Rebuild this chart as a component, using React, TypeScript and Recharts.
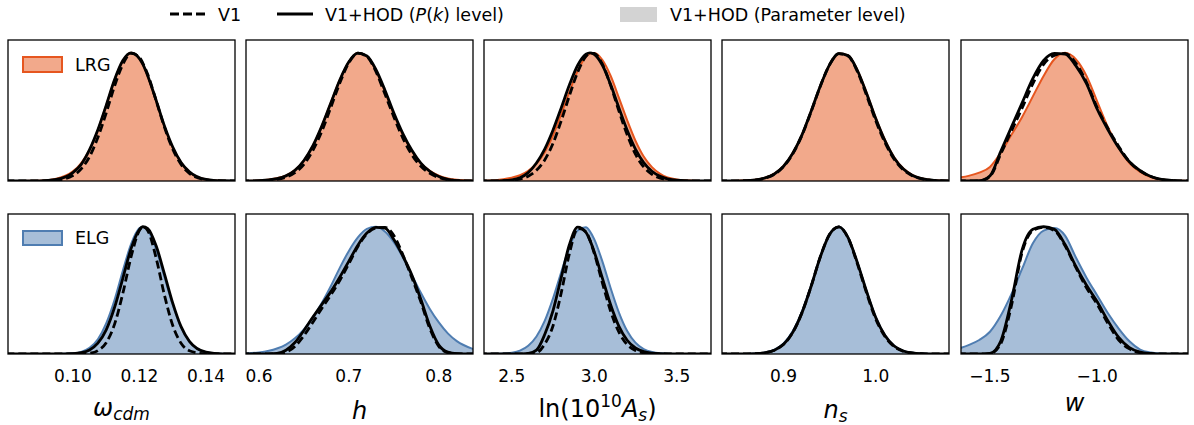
import React from "react";
import { ComposedChart, Area, Line, XAxis, YAxis } from "recharts";

// ---- omega_cdm ----
const omegaX = [0.080, 0.090, 0.095, 0.100, 0.1025, 0.105, 0.1075, 0.110, 0.1125, 0.115, 0.1175, 0.120, 0.121, 0.1225, 0.125, 0.1275, 0.130, 0.1325, 0.135, 0.140, 0.145, 0.150];
const omegaLrgParam = [0, 0.002, 0.018, 0.075, 0.14, 0.245, 0.397, 0.589, 0.788, 0.937, 1.0, 0.953, 0.908, 0.815, 0.624, 0.424, 0.26, 0.143, 0.07, 0.012, 0.001, 0];
const omegaLrgPk = [0, 0.001, 0.012, 0.065, 0.13, 0.245, 0.40, 0.59, 0.79, 0.94, 1.0, 0.955, 0.911, 0.82, 0.63, 0.43, 0.265, 0.145, 0.072, 0.013, 0.002, 0];
const omegaLrgV1 = [0, 0, 0.006, 0.042, 0.095, 0.19, 0.34, 0.53, 0.74, 0.91, 0.995, 0.965, 0.92, 0.83, 0.628, 0.42, 0.248, 0.13, 0.06, 0.009, 0.001, 0];
const omegaElgParam = [0, 0, 0, 0.005, 0.017, 0.048, 0.115, 0.24, 0.424, 0.654, 0.865, 0.989, 1.0, 0.974, 0.825, 0.607, 0.385, 0.209, 0.099, 0.014, 0.001, 0];
const omegaElgPk = [0, 0, 0, 0.003, 0.01, 0.032, 0.085, 0.19, 0.365, 0.595, 0.83, 0.978, 1.0, 0.985, 0.85, 0.63, 0.4, 0.215, 0.1, 0.015, 0.001, 0];
const omegaElgV1 = [0, 0, 0, 0, 0.001, 0.006, 0.027, 0.089, 0.233, 0.476, 0.766, 0.972, 0.999, 0.969, 0.755, 0.463, 0.224, 0.085, 0.026, 0.001, 0, 0];
const omegaTicks = [0.10, 0.12, 0.14];

// ---- h ----
const hX = [0.58, 0.60, 0.62, 0.63, 0.64, 0.65, 0.66, 0.67, 0.68, 0.69, 0.70, 0.71, 0.72, 0.73, 0.74, 0.75, 0.76, 0.77, 0.78, 0.79, 0.80, 0.81, 0.82, 0.84];
const hLrgParam = [0, 0.003, 0.022, 0.042, 0.085, 0.16, 0.275, 0.43, 0.612, 0.79, 0.93, 0.998, 0.972, 0.865, 0.7, 0.52, 0.36, 0.235, 0.14, 0.08, 0.042, 0.02, 0.009, 0.002];
const hLrgPk = [0, 0.002, 0.018, 0.04, 0.083, 0.16, 0.275, 0.43, 0.61, 0.79, 0.93, 0.997, 0.975, 0.87, 0.71, 0.53, 0.37, 0.24, 0.14, 0.075, 0.035, 0.012, 0.003, 0];
const hLrgV1 = [0, 0.001, 0.012, 0.029, 0.065, 0.13, 0.24, 0.39, 0.576, 0.766, 0.923, 0.997, 0.971, 0.855, 0.68, 0.5, 0.335, 0.205, 0.115, 0.06, 0.027, 0.01, 0.003, 0];
const hElgParam = [0.003, 0.012, 0.043, 0.074, 0.123, 0.194, 0.287, 0.402, 0.534, 0.679, 0.81, 0.916, 0.983, 0.999, 0.962, 0.878, 0.76, 0.619, 0.481, 0.354, 0.248, 0.162, 0.101, 0.034];
const hElgPk = [0, 0, 0.005, 0.03, 0.09, 0.185, 0.29, 0.39, 0.49, 0.605, 0.73, 0.855, 0.95, 0.995, 0.99, 0.9, 0.77, 0.62, 0.43, 0.22, 0.07, 0.015, 0.003, 0];
const hElgV1 = [0, 0, 0.002, 0.015, 0.06, 0.145, 0.25, 0.36, 0.465, 0.58, 0.71, 0.845, 0.945, 0.99, 0.995, 0.93, 0.78, 0.6, 0.41, 0.2, 0.06, 0.01, 0.002, 0];
const hTicks = [0.6, 0.7, 0.8];

// ---- ln(10^10 A_s) ----
const asX = [2.30, 2.40, 2.45, 2.50, 2.55, 2.60, 2.65, 2.70, 2.75, 2.80, 2.85, 2.90, 2.95, 2.975, 3.00, 3.05, 3.10, 3.15, 3.20, 3.25, 3.30, 3.35, 3.40, 3.50, 3.60, 3.72];
const asLrgParam = [0, 0.006, 0.014, 0.026, 0.045, 0.08, 0.135, 0.225, 0.355, 0.522, 0.697, 0.86, 0.969, 0.994, 0.999, 0.944, 0.82, 0.649, 0.474, 0.315, 0.191, 0.108, 0.055, 0.011, 0.002, 0];
const asLrgPk = [0, 0, 0.002, 0.008, 0.025, 0.065, 0.14, 0.249, 0.396, 0.57, 0.75, 0.903, 0.989, 1.0, 0.989, 0.903, 0.75, 0.57, 0.396, 0.249, 0.144, 0.076, 0.036, 0.006, 0.001, 0];
const asLrgV1 = [0, 0, 0.002, 0.005, 0.015, 0.037, 0.083, 0.164, 0.292, 0.469, 0.667, 0.85, 0.973, 0.998, 0.995, 0.911, 0.744, 0.546, 0.36, 0.209, 0.11, 0.052, 0.022, 0.003, 0, 0];
const asElgParam = [0, 0.001, 0.003, 0.01, 0.027, 0.065, 0.138, 0.26, 0.435, 0.642, 0.84, 0.971, 0.995, 0.962, 0.903, 0.726, 0.516, 0.325, 0.18, 0.089, 0.039, 0.015, 0.005, 0, 0, 0];
const asElgPk = [0, 0, 0, 0, 0.001, 0.004, 0.03, 0.153, 0.339, 0.6, 0.86, 0.997, 0.956, 0.891, 0.804, 0.594, 0.385, 0.217, 0.108, 0.047, 0.018, 0.006, 0.002, 0, 0, 0];
const asElgV1 = [0, 0, 0, 0, 0, 0.004, 0.01, 0.078, 0.22, 0.48, 0.79, 0.987, 0.962, 0.891, 0.793, 0.557, 0.334, 0.171, 0.074, 0.028, 0.009, 0.002, 0, 0, 0, 0];
const asTicks = [2.5, 3.0, 3.5];

// ---- n_s ----
const nsX = [0.83, 0.85, 0.87, 0.88, 0.89, 0.90, 0.91, 0.92, 0.93, 0.94, 0.95, 0.96, 0.97, 0.98, 0.99, 1.00, 1.01, 1.02, 1.03, 1.04, 1.05, 1.06, 1.08];
const nsLrgParam = [0, 0.002, 0.01, 0.026, 0.057, 0.117, 0.218, 0.362, 0.547, 0.744, 0.909, 0.995, 0.98, 0.867, 0.69, 0.492, 0.32, 0.185, 0.097, 0.046, 0.02, 0.008, 0.001];
const nsLrgPk = [0, 0.001, 0.009, 0.024, 0.055, 0.115, 0.216, 0.36, 0.546, 0.743, 0.908, 0.994, 0.978, 0.864, 0.685, 0.487, 0.315, 0.18, 0.093, 0.043, 0.018, 0.007, 0.001];
const nsLrgV1 = [0, 0.001, 0.008, 0.022, 0.052, 0.112, 0.212, 0.357, 0.543, 0.742, 0.908, 0.994, 0.975, 0.855, 0.67, 0.47, 0.3, 0.17, 0.087, 0.04, 0.016, 0.006, 0.001];
const nsElgParam = [0, 0, 0.004, 0.012, 0.034, 0.082, 0.18, 0.335, 0.54, 0.768, 0.941, 0.999, 0.916, 0.722, 0.496, 0.29, 0.148, 0.065, 0.025, 0.009, 0.003, 0, 0];
const nsElgPk = [0, 0, 0.003, 0.01, 0.03, 0.076, 0.17, 0.325, 0.534, 0.766, 0.941, 0.999, 0.915, 0.72, 0.493, 0.287, 0.146, 0.063, 0.024, 0.008, 0.002, 0, 0];
const nsElgV1 = [0, 0, 0.003, 0.01, 0.03, 0.076, 0.17, 0.325, 0.534, 0.766, 0.941, 0.999, 0.912, 0.71, 0.48, 0.275, 0.138, 0.058, 0.021, 0.007, 0.002, 0, 0];
const nsTicks = [0.9, 1.0];

// ---- w ----
const wX = [-1.65, -1.60, -1.55, -1.50, -1.45, -1.40, -1.35, -1.30, -1.25, -1.20, -1.15, -1.10, -1.05, -1.00, -0.95, -0.90, -0.85, -0.80, -0.75, -0.70, -0.65, -0.60, -0.55];
const wLrgParam = [0.025, 0.04, 0.065, 0.11, 0.22, 0.36, 0.5, 0.66, 0.82, 0.95, 1.0, 0.95, 0.82, 0.62, 0.42, 0.26, 0.14, 0.07, 0.03, 0.012, 0.004, 0.001, 0];
const wLrgPk = [0, 0, 0.002, 0.04, 0.23, 0.42, 0.61, 0.8, 0.94, 0.995, 0.99, 0.9, 0.76, 0.56, 0.4, 0.26, 0.15, 0.08, 0.035, 0.013, 0.004, 0.001, 0];
const wLrgV1 = [0, 0, 0.001, 0.035, 0.21, 0.39, 0.57, 0.76, 0.91, 0.98, 0.995, 0.92, 0.77, 0.57, 0.41, 0.27, 0.15, 0.08, 0.035, 0.012, 0.004, 0.001, 0];
const wElgParam = [0.04, 0.07, 0.11, 0.175, 0.3, 0.47, 0.67, 0.87, 0.97, 0.99, 0.93, 0.76, 0.6, 0.46, 0.32, 0.2, 0.1, 0.035, 0.012, 0.004, 0.001, 0, 0];
const wElgPk = [0, 0, 0, 0.005, 0.1, 0.42, 0.82, 0.98, 1.0, 0.98, 0.86, 0.69, 0.54, 0.41, 0.26, 0.13, 0.05, 0.015, 0.004, 0, 0, 0, 0];
const wElgV1 = [0, 0, 0, 0.002, 0.08, 0.38, 0.8, 0.97, 0.995, 0.97, 0.85, 0.68, 0.52, 0.39, 0.24, 0.11, 0.04, 0.01, 0.002, 0, 0, 0, 0];
const wTicks = [-1.5, -1.0];

const FONT = "DejaVu Sans";
const LRG = { edge: "#e6561f", fill: "#f2a98b" };
const ELG = { edge: "#4f7db1", fill: "#a7bed8" };

const PANEL_W = 227;
const PANEL_LEFT = [8, 246, 484, 722, 961];
const TOP_Y = 40;
const TOP_H = 141;
const BOT_Y = 214;
const BOT_H = 140;

const panels = [
  { x: omegaX, domain: [0.0805, 0.1487], ticks: omegaTicks, digits: 2,
    lrg: [omegaLrgParam, omegaLrgPk, omegaLrgV1], elg: [omegaElgParam, omegaElgPk, omegaElgV1] },
  { x: hX, domain: [0.5856, 0.838], ticks: hTicks, digits: 1,
    lrg: [hLrgParam, hLrgPk, hLrgV1], elg: [hElgParam, hElgPk, hElgV1] },
  { x: asX, domain: [2.332, 3.708], ticks: asTicks, digits: 1,
    lrg: [asLrgParam, asLrgPk, asLrgV1], elg: [asElgParam, asElgPk, asElgV1] },
  { x: nsX, domain: [0.8332, 1.0795], ticks: nsTicks, digits: 1,
    lrg: [nsLrgParam, nsLrgPk, nsLrgV1], elg: [nsElgParam, nsElgPk, nsElgV1] },
  { x: wX, domain: [-1.635, -0.577], ticks: wTicks, digits: 1,
    lrg: [wLrgParam, wLrgPk, wLrgV1], elg: [wElgParam, wElgPk, wElgV1] },
];

const fmt = (v: number, d: number) => (v < 0 ? "\u2212" + Math.abs(v).toFixed(d) : v.toFixed(d));

function Panel({ p, series, color, left, top, plotH, showAxis }: any) {
  const [param, pk, v1] = series;
  const rows = p.x.map((x: number, i: number) => ({ x, param: param[i], pk: pk[i], v1: v1[i] }));
  const axisH = showAxis ? 40 : 0;
  return (
    <div style={{ position: "absolute", left, top }}>
      <ComposedChart width={PANEL_W} height={plotH + axisH} data={rows} margin={{ top: 0, right: 0, bottom: 0, left: 0 }}>
        <XAxis
          type="number"
          dataKey="x"
          domain={p.domain}
          allowDataOverflow
          ticks={p.ticks}
          interval={0}
          hide={!showAxis}
          height={40}
          axisLine={false}
          tickLine={false}
          tickSize={0}
          tickMargin={16}
          tick={{ fill: "#000", fontSize: 17, fontFamily: FONT }}
          tickFormatter={(v: number) => fmt(v, p.digits)}
        />
        <YAxis hide domain={[0, 1.1]} allowDataOverflow />
        <Area type="monotone" dataKey="param" stroke={color.edge} strokeWidth={2} fill={color.fill} fillOpacity={1}
          dot={false} activeDot={false} isAnimationActive={false} />
        <Line type="monotone" dataKey="v1" stroke="#000" strokeWidth={2.8} strokeDasharray="8 4"
          dot={false} activeDot={false} isAnimationActive={false} />
        <Line type="monotone" dataKey="pk" stroke="#000" strokeWidth={2.8}
          dot={false} activeDot={false} isAnimationActive={false} />
      </ComposedChart>
    </div>
  );
}

const labelBaselines = [416, 419, 417, 418, 411];

function AxisLabel({ i, cx }: { i: number; cx: number }) {
  const y = labelBaselines[i];
  const common = { x: cx, y, textAnchor: "middle" as const, fontSize: 24, fontFamily: FONT, fill: "#000" };
  if (i === 0)
    return (
      <text {...common}>
        <tspan fontStyle="italic">ω</tspan>
        <tspan fontStyle="italic" fontSize={17} dy={4}>cdm</tspan>
      </text>
    );
  if (i === 1) return <text {...common} fontStyle="italic">h</text>;
  if (i === 2)
    return (
      <text {...common}>
        ln(10
        <tspan fontSize={17} dy={-10}>10</tspan>
        <tspan fontStyle="italic" dy={10}>A</tspan>
        <tspan fontStyle="italic" fontSize={17} dy={4}>s</tspan>
        <tspan dy={-4}>)</tspan>
      </text>
    );
  if (i === 3)
    return (
      <text {...common}>
        <tspan fontStyle="italic">n</tspan>
        <tspan fontStyle="italic" fontSize={17} dy={4}>s</tspan>
      </text>
    );
  return <text {...common} fontStyle="italic">w</text>;
}

export default function App() {
  return (
    <div style={{ position: "absolute", left: 0, top: 0, width: 1194, height: 425, background: "#fff", fontFamily: FONT }}>
      {panels.map((p, i) => (
        <Panel key={"l" + i} p={p} series={p.lrg} color={LRG} left={PANEL_LEFT[i]} top={TOP_Y} plotH={TOP_H} showAxis={false} />
      ))}
      {panels.map((p, i) => (
        <Panel key={"e" + i} p={p} series={p.elg} color={ELG} left={PANEL_LEFT[i]} top={BOT_Y} plotH={BOT_H} showAxis />
      ))}
      <svg width={1194} height={425} style={{ position: "absolute", left: 0, top: 0, pointerEvents: "none" }}>
        {PANEL_LEFT.map((l, i) => (
          <g key={i}>
            <rect x={l} y={TOP_Y} width={PANEL_W} height={TOP_H} fill="none" stroke="#000" strokeWidth={1.3} />
            <rect x={l} y={BOT_Y} width={PANEL_W} height={BOT_H} fill="none" stroke="#000" strokeWidth={1.3} />
            <AxisLabel i={i} cx={l + PANEL_W / 2} />
          </g>
        ))}

        {/* sample tracer legends */}
        <rect x={23} y={57} width={39} height={15} fill={LRG.fill} stroke={LRG.edge} strokeWidth={2} />
        <text x={75} y={70.5} fontSize={17.5} fontFamily={FONT} fill="#000">LRG</text>
        <rect x={23} y={231} width={39} height={14} fill={ELG.fill} stroke={ELG.edge} strokeWidth={2} />
        <text x={75} y={244} fontSize={17.5} fontFamily={FONT} fill="#000">ELG</text>

        {/* top legend */}
        <line x1={170} x2={205} y1={14} y2={14} stroke="#000" strokeWidth={2.8} strokeDasharray="9 4" />
        <text x={218} y={21} fontSize={17.5} fontFamily={FONT} fill="#000">V1</text>
        <line x1={277} x2={313} y1={14} y2={14} stroke="#000" strokeWidth={2.8} />
        <text x={325} y={21} fontSize={17.5} fontFamily={FONT} fill="#000">
          V1+HOD (<tspan fontStyle="italic">P</tspan>(<tspan fontStyle="italic">k</tspan>) level)
        </text>
        <rect x={620} y={7} width={37} height={15} fill="#d3d3d3" />
        <text x={670} y={21} fontSize={17.5} fontFamily={FONT} fill="#000">V1+HOD (Parameter level)</text>
      </svg>
    </div>
  );
}
